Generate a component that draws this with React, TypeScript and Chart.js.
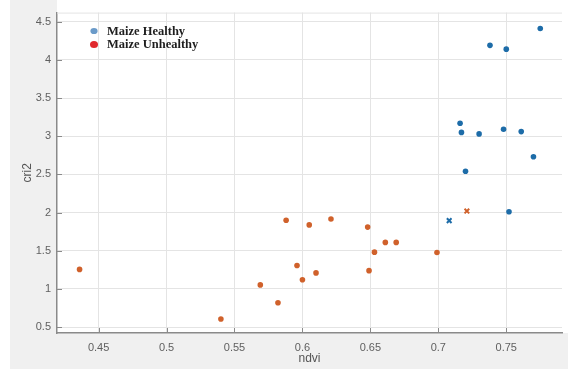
import React, { useEffect, useRef } from "react";
import { Chart, registerables } from "chart.js";

Chart.register(...registerables);

// Healthy maize samples (ndvi, cri2)
const healthyNdvi = [0.775, 0.738, 0.750, 0.716, 0.717, 0.730, 0.748, 0.761, 0.770, 0.720, 0.752];
const healthyCri2 = [4.41, 4.19, 4.14, 3.17, 3.05, 3.03, 3.09, 3.06, 2.73, 2.54, 2.01];

// Unhealthy maize samples (ndvi, cri2)
const unhealthyNdvi = [0.436, 0.540, 0.569, 0.582, 0.588, 0.596, 0.600, 0.605, 0.610, 0.621, 0.648, 0.649, 0.653, 0.661, 0.669, 0.699];
const unhealthyCri2 = [1.255, 0.605, 1.052, 0.818, 1.898, 1.307, 1.120, 1.838, 1.209, 1.915, 1.809, 1.239, 1.481, 1.609, 1.609, 1.477];

// Cross markers
const healthyCrossNdvi = [0.708];
const healthyCrossCri2 = [1.894];
const unhealthyCrossNdvi = [0.721];
const unhealthyCrossCri2 = [2.02];

// Axes
const xTicks = [0.45, 0.5, 0.55, 0.6, 0.65, 0.7, 0.75];
const yTicks = [0.5, 1, 1.5, 2, 2.5, 3, 3.5, 4, 4.5];
const xRange = [0.4194, 0.791];
const yRange = [0.422, 4.619];
const xTitle = "ndvi";
const yTitle = "cri2";
const legendLabels = ["Maize Healthy", "Maize Unhealthy"];

const BLUE = "#1d6ca8";
const ORANGE = "#d0612b";
const AXIS = "#8a8a8a";
const GRID = "#e4e4e4";

const pts = (xs: number[], ys: number[]) => xs.map((x, i) => ({ x, y: ys[i] }));

const backgroundPlugin = {
  id: "bgPlugin",
  beforeDraw(chart: any) {
    const { ctx, chartArea, width, height } = chart;
    ctx.save();
    ctx.fillStyle = "#ffffff";
    ctx.fillRect(0, 0, width, height);
    ctx.fillStyle = "#f0f0f0";
    ctx.fillRect(10, 0, chartArea.left - 10, height);
    ctx.fillRect(10, chartArea.bottom, width - 10, height - chartArea.bottom);
    ctx.fillStyle = "#ffffff";
    ctx.fillRect(chartArea.left, chartArea.top, chartArea.right - chartArea.left, chartArea.bottom - chartArea.top);
    ctx.restore();
  },
  afterDraw(chart: any) {
    const { ctx, chartArea, scales } = chart;
    ctx.save();
    // faint top box line
    ctx.strokeStyle = GRID;
    ctx.lineWidth = 1;
    ctx.beginPath();
    ctx.moveTo(chartArea.left, chartArea.top + 0.5);
    ctx.lineTo(chartArea.right, chartArea.top + 0.5);
    ctx.stroke();
    // inward ticks
    ctx.strokeStyle = AXIS;
    ctx.lineWidth = 1;
    ctx.beginPath();
    scales.x.ticks.forEach((t: any) => {
      const px = Math.round(scales.x.getPixelForValue(t.value)) + 0.5;
      ctx.moveTo(px, chartArea.bottom);
      ctx.lineTo(px, chartArea.bottom - 5);
    });
    scales.y.ticks.forEach((t: any) => {
      const py = Math.round(scales.y.getPixelForValue(t.value)) + 0.5;
      ctx.moveTo(chartArea.left, py);
      ctx.lineTo(chartArea.left + 5, py);
    });
    ctx.stroke();

    // legend overlay
    const lx = 94;
    const rows = [
      { y: 31, color: "#6b9bc9", label: legendLabels[0], rx: 3.6, ry: 3.1 },
      { y: 44.5, color: "#e0282d", label: legendLabels[1], rx: 4, ry: 3.6 },
    ];
    rows.forEach((r) => {
      ctx.fillStyle = r.color;
      ctx.beginPath();
      ctx.ellipse(lx, r.y, r.rx, r.ry, 0, 0, Math.PI * 2);
      ctx.fill();
      ctx.fillStyle = "#1e1e1e";
      ctx.font = "bold 12.5px 'Liberation Serif', 'Times New Roman', serif";
      ctx.textBaseline = "middle";
      ctx.textAlign = "left";
      ctx.fillText(r.label, 107, r.y + 0.5);
    });
    ctx.restore();
  },
};

export default function App() {
  const ref = useRef<HTMLCanvasElement | null>(null);

  useEffect(() => {
    document.body.style.margin = "0";
    const canvas = ref.current;
    if (!canvas) return;
    const tickFont = { family: "'Liberation Sans', Arial, sans-serif", size: 11 };
    const chart = new Chart(canvas, {
      type: "scatter",
      data: {
        datasets: [
          {
            label: "healthy",
            data: pts(healthyNdvi, healthyCri2),
            backgroundColor: BLUE,
            borderColor: BLUE,
            pointRadius: 2.8,
            pointBorderWidth: 0,
          },
          {
            label: "unhealthy",
            data: pts(unhealthyNdvi, unhealthyCri2),
            backgroundColor: ORANGE,
            borderColor: ORANGE,
            pointRadius: 2.8,
            pointBorderWidth: 0,
          },
          {
            label: "healthy x",
            data: pts(healthyCrossNdvi, healthyCrossCri2),
            pointStyle: "crossRot",
            backgroundColor: BLUE,
            borderColor: BLUE,
            pointRadius: 3.3,
            pointBorderWidth: 2,
          },
          {
            label: "unhealthy x",
            data: pts(unhealthyCrossNdvi, unhealthyCrossCri2),
            pointStyle: "crossRot",
            backgroundColor: ORANGE,
            borderColor: ORANGE,
            pointRadius: 3.3,
            pointBorderWidth: 2,
          },
        ],
      },
      options: {
        responsive: false,
        animation: false,
        devicePixelRatio: 1,
        layout: { padding: { top: 4, right: 4, left: 0, bottom: 0 } },
        plugins: { legend: { display: false }, tooltip: { enabled: false } },
        scales: {
          x: {
            type: "linear",
            min: xRange[0],
            max: xRange[1],
            afterBuildTicks: (s: any) => {
              s.ticks = xTicks.map((v) => ({ value: v }));
            },
            afterFit: (s: any) => {
              s.height = 36;
            },
            ticks: {
              color: "#5f5f5f",
              font: tickFont,
              padding: 8,
              maxRotation: 0,
              callback: (v: any) => String(v),
            },
            grid: { color: GRID, lineWidth: 1, drawTicks: false },
            border: { color: AXIS, width: 1.5 },
            title: {
              display: true,
              text: xTitle,
              color: "#555555",
              font: { family: "'Liberation Sans', Arial, sans-serif", size: 12 },
              padding: { top: 0, bottom: 3 },
            },
          },
          y: {
            type: "linear",
            min: yRange[0],
            max: yRange[1],
            afterBuildTicks: (s: any) => {
              s.ticks = yTicks.map((v) => ({ value: v }));
            },
            afterFit: (s: any) => {
              s.width = 57;
            },
            ticks: {
              color: "#5f5f5f",
              font: tickFont,
              padding: 6,
              callback: (v: any) => String(v),
            },
            grid: { color: GRID, lineWidth: 1, drawTicks: false },
            border: { color: AXIS, width: 1.5 },
            title: {
              display: true,
              text: yTitle,
              color: "#555555",
              font: { family: "'Liberation Sans', Arial, sans-serif", size: 12 },
              padding: { top: 20, bottom: 0 },
            },
          },
        },
      },
      plugins: [backgroundPlugin],
    } as any);
    return () => chart.destroy();
  }, []);

  return (
    <div style={{ width: 568, height: 369 }}>
      <canvas ref={ref} width={568} height={369} style={{ display: "block" }} />
    </div>
  );
}
